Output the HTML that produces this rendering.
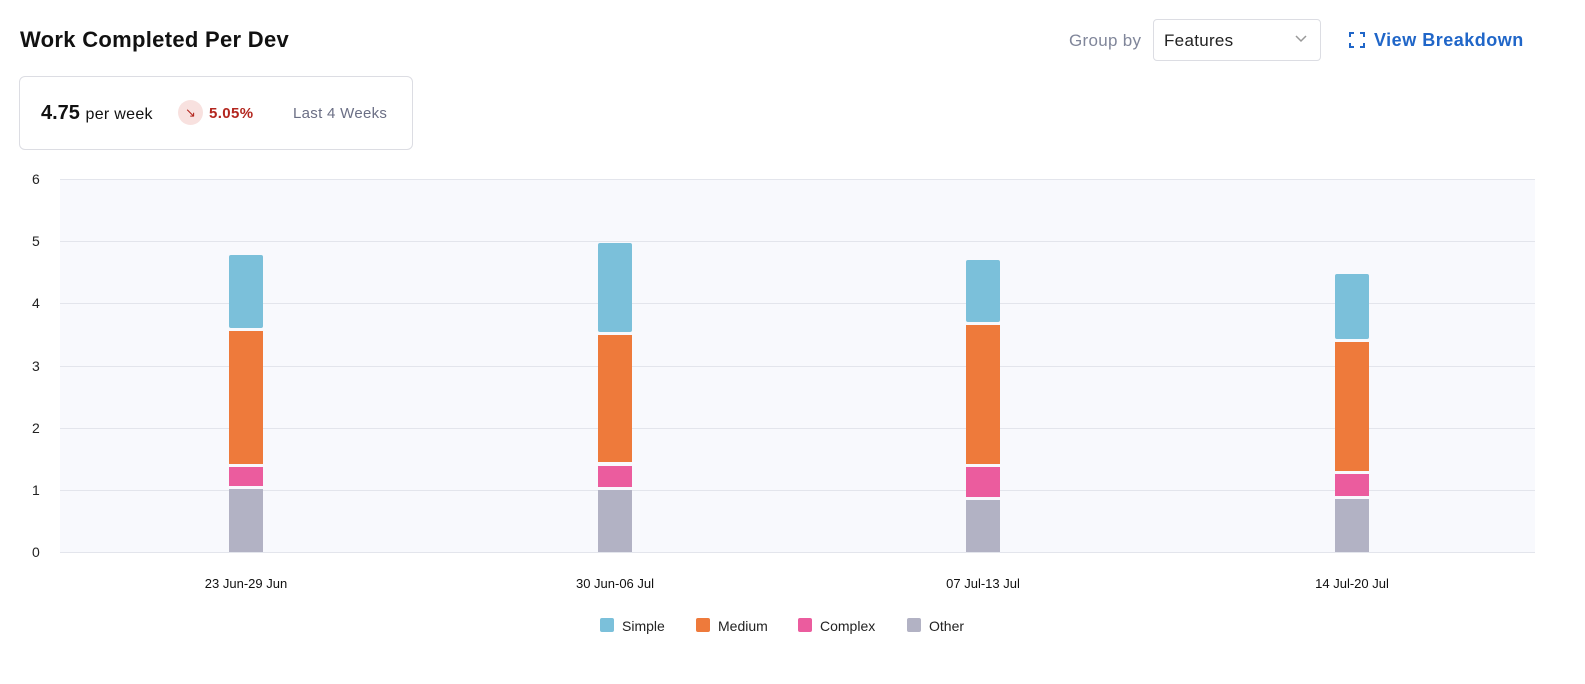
<!DOCTYPE html>
<html><head><style>
body{margin:0;width:1585px;height:684px;background:#fff;font-family:"Liberation Sans",sans-serif;position:relative;overflow:hidden}
.a{position:absolute;white-space:nowrap}
</style></head><body>
<div class="a" style="left:20px;top:27px;font-size:22px;font-weight:bold;color:#111;letter-spacing:0.3px">Work Completed Per Dev</div>
<div class="a" style="left:1069px;top:31px;font-size:17px;color:#80869a;letter-spacing:0.3px">Group by</div>
<div class="a" style="left:1153px;top:19px;width:168px;height:42px;border:1px solid #dcdde3;border-radius:4px;box-sizing:border-box"></div>
<div class="a" style="left:1164px;top:31px;font-size:17px;color:#222;letter-spacing:0.3px">Features</div>
<svg class="a" style="left:1294px;top:34px" width="14" height="10"><path d="M2 2 L7 7 L12 2" stroke="#999" fill="none" stroke-width="1.5"/></svg>
<svg class="a" style="left:1349px;top:32px" width="16" height="16"><path d="M1 5V1H5M11 1H15V5M15 11V15H11M5 15H1V11" stroke="#2066c8" fill="none" stroke-width="2"/></svg>
<div class="a" style="left:1374px;top:30px;font-size:18px;font-weight:bold;color:#2066c8;letter-spacing:0.5px">View Breakdown</div>
<div class="a" style="left:19px;top:76px;width:394px;height:74px;border:1px solid #dcdde3;border-radius:6px;box-sizing:border-box"></div>
<div class="a" style="left:41px;top:102px;font-size:20px;color:#111"><b>4.75</b> <span style="font-size:16px;letter-spacing:0.3px">per week</span></div>
<div class="a" style="left:178px;top:100px;width:25px;height:25px;border-radius:50%;background:#f8e1df;color:#b3261e;font-size:13px;text-align:center;line-height:25px">↘</div>
<div class="a" style="left:209px;top:105px;font-size:15px;font-weight:bold;color:#b3261e;letter-spacing:0.4px">5.05%</div>
<div class="a" style="left:293px;top:105px;font-size:15px;color:#6b6f85;letter-spacing:0.3px">Last 4 Weeks</div>
<svg class="a" style="left:0;top:0" width="1585" height="684" font-family="Liberation Sans, sans-serif">
<rect x="60" y="179" width="1475" height="373" fill="#f8f9fd"/>
<g stroke="#e3e5ec" stroke-width="1">
<line x1="60" x2="1535" y1="179.5" y2="179.5"/><line x1="60" x2="1535" y1="241.5" y2="241.5"/><line x1="60" x2="1535" y1="303.5" y2="303.5"/><line x1="60" x2="1535" y1="366.5" y2="366.5"/><line x1="60" x2="1535" y1="428.5" y2="428.5"/><line x1="60" x2="1535" y1="490.5" y2="490.5"/><line x1="60" x2="1535" y1="552.5" y2="552.5"/>
</g>
<g font-size="14" fill="#222" text-anchor="start">
<text x="32" y="184">6</text><text x="32" y="246">5</text><text x="32" y="308">4</text><text x="32" y="371">3</text><text x="32" y="433">2</text><text x="32" y="495">1</text><text x="32" y="557">0</text>
</g>
<g>
<rect x="229" y="255" width="34" height="73" fill="#7bc0da" rx="2"/><rect x="229" y="331" width="34" height="133" fill="#ee7a3b"/><rect x="229" y="467" width="34" height="19" fill="#eb5c9e"/><rect x="229" y="489" width="34" height="63" fill="#b2b2c4"/>
<rect x="598" y="243" width="34" height="89" fill="#7bc0da" rx="2"/><rect x="598" y="335" width="34" height="127" fill="#ee7a3b"/><rect x="598" y="466" width="34" height="21" fill="#eb5c9e"/><rect x="598" y="490" width="34" height="62" fill="#b2b2c4"/>
<rect x="966" y="260" width="34" height="62" fill="#7bc0da" rx="2"/><rect x="966" y="325" width="34" height="139" fill="#ee7a3b"/><rect x="966" y="467" width="34" height="30" fill="#eb5c9e"/><rect x="966" y="500" width="34" height="52" fill="#b2b2c4"/>
<rect x="1335" y="274" width="34" height="65" fill="#7bc0da" rx="2"/><rect x="1335" y="342" width="34" height="129" fill="#ee7a3b"/><rect x="1335" y="474" width="34" height="22" fill="#eb5c9e"/><rect x="1335" y="499" width="34" height="53" fill="#b2b2c4"/>
</g>
<g font-size="13" fill="#111" text-anchor="middle">
<text x="246" y="588">23 Jun-29 Jun</text><text x="615" y="588">30 Jun-06 Jul</text><text x="983" y="588">07 Jul-13 Jul</text><text x="1352" y="588">14 Jul-20 Jul</text>
</g>
<g font-size="14" fill="#222">
<rect x="600" y="618" width="14" height="14" rx="2" fill="#7bc0da"/><text x="622" y="631">Simple</text>
<rect x="696" y="618" width="14" height="14" rx="2" fill="#ee7a3b"/><text x="718" y="631">Medium</text>
<rect x="798" y="618" width="14" height="14" rx="2" fill="#eb5c9e"/><text x="820" y="631">Complex</text>
<rect x="907" y="618" width="14" height="14" rx="2" fill="#b2b2c4"/><text x="929" y="631">Other</text>
</g>
</svg>
</body></html>
